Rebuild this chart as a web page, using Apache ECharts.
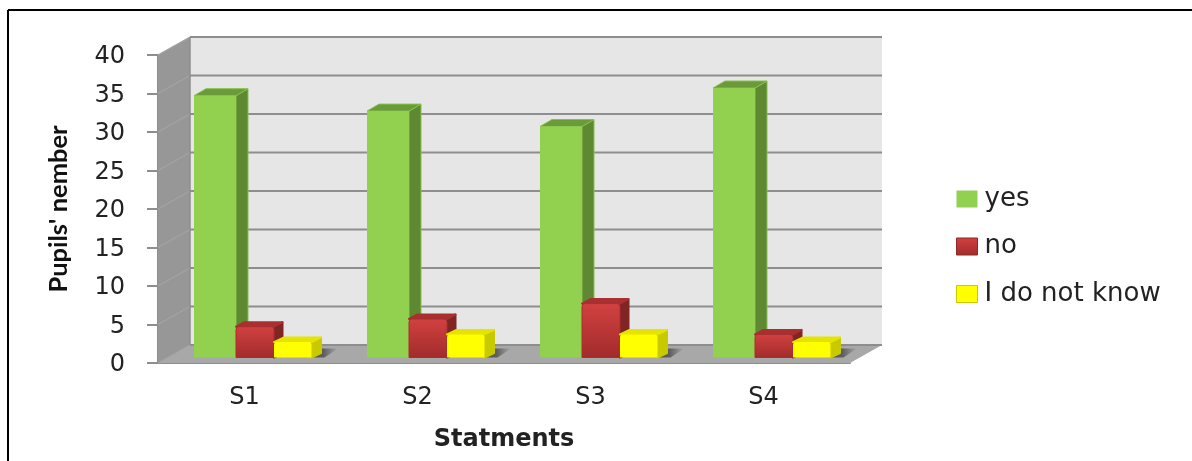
<!DOCTYPE html>
<html>
<head>
<meta charset="utf-8">
<style>html,body{margin:0;padding:0;background:#fff}#chart{width:1192px;height:461px}</style>
<script src="https://cdn.jsdelivr.net/npm/echarts@6/dist/echarts.min.js"></script>
</head>
<body>
<div id="chart"></div>
<script>
const categories = ['S1', 'S2', 'S3', 'S4'];
const yesValues = [34, 32, 30, 35];
const noValues = [4, 5, 7, 3];
const unsureValues = [2, 3, 3, 2];
const yTicks = [0, 5, 10, 15, 20, 25, 30, 35, 40];

// Pixel offset of the back wall relative to the front plane of the plot.
const DEPTH_X = 32;
const DEPTH_Y = -18;
// Bars stand slightly inside the floor.
const BAR_LIFT = -5.5;
const FLOOR_COLOR = '#a8a8a8';

const poly = (points, fill, extra) => ({
  type: 'polygon',
  shape: { points },
  style: Object.assign({ fill }, extra || {})
});

const vGrad = (top, bottom) => ({
  type: 'linear', x: 0, y: 0, x2: 0, y2: 1,
  colorStops: [{ offset: 0, color: top }, { offset: 1, color: bottom }]
});

// Back wall, side wall and floor, with one gridline per tick.
function renderRoom(params, api) {
  const cs = params.coordSys;
  const xL = cs.x, xR = cs.x + cs.width;
  const y0 = api.coord([0, 0])[1];
  const yTop = api.coord([0, 40])[1];
  const v = api.value(0);
  const y = api.coord([0, v])[1];
  const children = [];
  if (params.dataIndex === 0) {
    children.push(
      poly([[xL + DEPTH_X, yTop + DEPTH_Y], [xR + DEPTH_X, yTop + DEPTH_Y], [xR + DEPTH_X, y0 + DEPTH_Y], [xL + DEPTH_X, y0 + DEPTH_Y]], '#e6e6e6'),
      poly([[xL, yTop], [xL + DEPTH_X, yTop + DEPTH_Y], [xL + DEPTH_X, y0 + DEPTH_Y], [xL, y0]], '#979797'),
      poly([[xL, y0], [xL + DEPTH_X, y0 + DEPTH_Y], [xR + DEPTH_X, y0 + DEPTH_Y], [xR, y0]], FLOOR_COLOR)
    );
  }
  children.push(
    { type: 'line', shape: { x1: xL, y1: y, x2: xL + DEPTH_X, y2: y + DEPTH_Y }, style: { stroke: '#a3a3a3', lineWidth: 1.2 } },
    { type: 'line', shape: { x1: xL + DEPTH_X, y1: y + DEPTH_Y, x2: xR + DEPTH_X, y2: y + DEPTH_Y }, style: { stroke: '#8e8e8e', lineWidth: 2 } }
  );
  if (params.dataIndex === yTicks.length - 1) {
    children.push({ type: 'line', shape: { x1: xL + DEPTH_X, y1: yTop + DEPTH_Y, x2: xL + DEPTH_X, y2: y0 + DEPTH_Y }, style: { stroke: '#8e8e8e', lineWidth: 1.5 } });
  }
  return { type: 'group', children };
}

// Floor shadow cast to the right of a box, fading into the floor colour.
const shadowFill = {
  type: 'linear', x: 0, y: 0, x2: 1, y2: 0,
  colorStops: [{ offset: 0, color: '#555555' }, { offset: 0.45, color: '#5e5e5e' }, { offset: 1, color: FLOOR_COLOR }]
};

// Builds the box renderer for one series: offset from the category centre, width, depth and faces.
function boxRenderer(o) {
  return function (params, api) {
    const idx = api.value(0);
    const base = api.coord([idx, 0]);
    const top = api.coord([idx, api.value(1)]);
    const x1 = base[0] + o.offset;
    const x2 = x1 + o.width;
    const yT = top[1] + BAR_LIFT;
    const yB = base[1] + BAR_LIFT;
    const edge = c => ({ stroke: c, lineWidth: o.edgeWidth, lineJoin: 'round' });
    const children = [];
    if (o.shadow) {
      children.push(poly([[x2, yB], [x2 + o.dx, yB - 9], [x2 + o.dx + 17, yB - 9], [x2 + 13, yB]], shadowFill));
    }
    children.push(
      poly([[x2, yT], [x2 + o.dx, yT + o.dy], [x2 + o.dx, yB + o.dy], [x2, yB]], o.side, edge(o.sideEdge)),
      poly([[x1, yT], [x1 + o.dx, yT + o.dy], [x2 + o.dx, yT + o.dy], [x2, yT]], o.topFace, edge(o.topEdge))
    );
    children.push({
      type: 'rect',
      shape: { x: x1, y: yT, width: o.width, height: yB - yT, r: o.round ? [3, 3, 0, 0] : 0 },
      style: { fill: o.front, stroke: o.frontEdge, lineWidth: o.frontEdge ? 1 : 0 }
    });
    return { type: 'group', children };
  };
}

const redFront = vGrad('#d24141', '#a22b2b');
const green = { offset: -50.5, width: 42, dx: 12, dy: -7, edgeWidth: 1, front: '#92d050', side: '#5f8833', sideEdge: '#86c04a', topFace: '#6b9a3a', topEdge: '#86c04a' };
const red = { offset: -8.5, width: 38, dx: 8.5, dy: -4.5, edgeWidth: 2, round: true, front: redFront, frontEdge: '#ab2e2e', side: '#812424', sideEdge: '#812424', topFace: '#a83030', topEdge: '#a83030' };
const yellow = { offset: 29.5, width: 37.5, dx: 9.5, dy: -4.5, edgeWidth: 2, round: true, shadow: true, front: '#ffff00', side: '#c9c900', sideEdge: '#c9c900', topFace: '#e4e400', topEdge: '#e4e400' };

const rows = values => values.map((v, i) => [i, v]);

const chart = echarts.init(document.getElementById('chart'), null, { renderer: 'canvas' });
chart.setOption({
  animation: false,
  backgroundColor: '#fff',
  grid: { left: 158, right: 342, top: 55, bottom: 98, containLabel: false },
  legend: {
    orient: 'vertical',
    left: 951,
    top: 181,
    itemWidth: 21,
    itemHeight: 17,
    itemGap: 21.5,
    icon: 'rect',
    data: [
      { name: 'yes' },
      { name: 'no', itemStyle: { color: redFront, borderColor: '#8a2a2a', borderWidth: 1 } },
      { name: 'I do not know', itemStyle: { color: '#ffff00', borderColor: '#c9c900', borderWidth: 1 } }
    ],
    textStyle: { fontFamily: 'DejaVu Sans', fontSize: 26, color: '#222', padding: [0, 0, 0, 2] }
  },
  xAxis: {
    type: 'category',
    data: categories,
    name: 'Statments',
    nameLocation: 'middle',
    nameGap: 65,
    nameTextStyle: { fontFamily: 'DejaVu Sans', fontWeight: 'bold', fontSize: 24, color: '#222' },
    axisLine: { lineStyle: { color: '#8e8e8e', width: 2 } },
    axisTick: { show: false },
    axisLabel: { fontFamily: 'DejaVu Sans', fontSize: 24, color: '#222', margin: 23 },
    splitLine: { show: false }
  },
  yAxis: {
    type: 'value',
    min: 0,
    max: 40,
    interval: 5,
    name: "Pupils' nember",
    nameLocation: 'middle',
    nameGap: 86,
    nameTextStyle: { fontFamily: 'Lato', fontWeight: 'bold', fontSize: 25.5, color: '#111' },
    axisLine: { show: true, lineStyle: { color: '#8e8e8e', width: 2 } },
    axisTick: { show: true, length: 11, lineStyle: { color: '#8e8e8e', width: 2 } },
    axisLabel: {
      margin: 33,
      formatter: '{tick|{value}}',
      rich: { tick: { fontFamily: 'DejaVu Sans', fontSize: 24, color: '#222', padding: [4, 0, 0, 0] } }
    },
    splitLine: { show: false }
  },
  series: [
    { type: 'custom', name: 'room', silent: true, z: 1, clip: false, data: yTicks.map(v => [v]), encode: { y: 0 }, renderItem: renderRoom },
    { type: 'custom', name: 'yes', z: 2, clip: false, itemStyle: { color: '#92d050' }, data: rows(yesValues), encode: { x: 0, y: 1 }, renderItem: boxRenderer(green) },
    { type: 'custom', name: 'no', z: 3, clip: false, itemStyle: { color: '#b03232' }, data: rows(noValues), encode: { x: 0, y: 1 }, renderItem: boxRenderer(red) },
    { type: 'custom', name: 'I do not know', z: 4, clip: false, itemStyle: { color: '#ffff00' }, data: rows(unsureValues), encode: { x: 0, y: 1 }, renderItem: boxRenderer(yellow) }
  ],
  graphic: [
    // Frame around the figure: open on the right and at the bottom.
    { type: 'line', shape: { x1: 8, y1: 10, x2: 1192, y2: 10 }, style: { stroke: '#000', lineWidth: 2 } },
    { type: 'line', shape: { x1: 8, y1: 10, x2: 8, y2: 461 }, style: { stroke: '#000', lineWidth: 2 } }
  ]
});
</script>
</body>
</html>
